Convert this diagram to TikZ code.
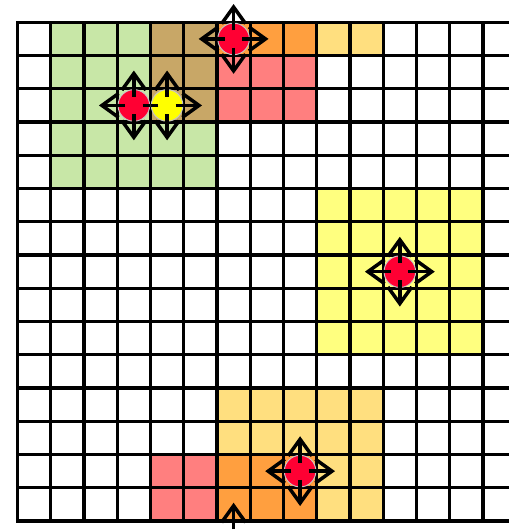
\documentclass[tikz,border=0pt]{standalone}
\usepackage{tikz}
\usetikzlibrary{arrows.meta}

\definecolor{zonered}{HTML}{FF0000}
\definecolor{zonegreen}{HTML}{92D050}
\definecolor{zonegold}{HTML}{FFC000}
\definecolor{zoneyellow}{HTML}{FFFF00}
\definecolor{agentred}{HTML}{FF0033}

\begin{document}
\begin{tikzpicture}[x=1cm,y=-1cm,
  zone/.style={opacity=0.5},
  gridline/.style={line width=2.7pt,black,line cap=rect},
  agent/.style={circle,minimum size=0.95cm,inner sep=0pt,draw=gray!45,line width=0.8pt},
  mv/.style={-{Straight Barb[length=0.5cm,width=0.72cm]},line width=3pt,shorten <=0.26cm},
  stub/.style={line width=3pt}
]
\useasboundingbox (-0.526,-0.671) rectangle (14.78,15.27);
\clip (-0.526,-0.671) rectangle (14.78,15.27);

% neighbourhoods (torus wrap at the border)
\fill[zone,fill=zonered]    (4,0)  rectangle (9,3);
\fill[zone,fill=zonered]    (4,13) rectangle (9,15);
\fill[zone,fill=zonegreen]  (1,0)  rectangle (6,5);
\fill[zone,fill=zonegold]   (6,11) rectangle (11,15);
\fill[zone,fill=zonegold]   (6,0)  rectangle (11,1);
\fill[zone,fill=zoneyellow] (9,5)  rectangle (14,10);

% lattice
\foreach \i in {0,...,15} {
  \draw[gridline] (\i,0) -- (\i,15);
  \draw[gridline] (0,\i) -- (15,\i);
}

% agents
\node[agent,fill=agentred]   (a1) at (3.5,2.5)  {};
\node[agent,fill=zoneyellow] (a2) at (4.5,2.5)  {};
\node[agent,fill=agentred]   (a3) at (6.5,0.5)  {};
\node[agent,fill=agentred]   (a4) at (11.5,7.5) {};
\node[agent,fill=agentred]   (a5) at (8.5,13.5) {};
\coordinate (a3w) at (6.5,15.5);

% moves
\foreach \n/\a in {a1/90,a1/180,a1/270,a2/0,a2/90,a2/270,
                   a3/0,a3/90,a3/180,a3/270,a4/0,a4/90,a4/180,a4/270,
                   a5/0,a5/90,a5/180,a5/270}
  \draw[mv] (\n.center) -- ++(\a:1.05);
\draw[stub] (a1.center) ++(0.26,0) -- (a1.east);
\draw[stub] (a2.center) ++(-0.26,0) -- (a2.west);
\draw[mv] (a3w) -- ++(0,-1.05);
\end{tikzpicture}
\end{document}
